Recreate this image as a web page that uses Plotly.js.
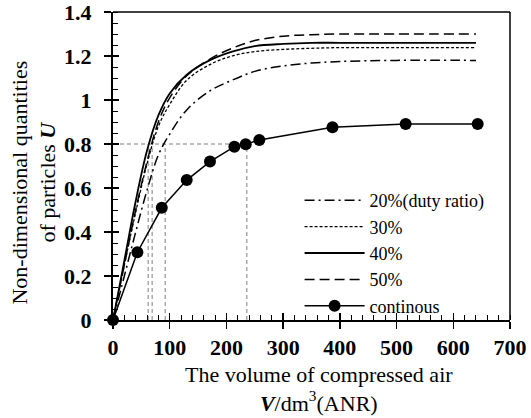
<!DOCTYPE html>
<html>
<head>
<meta charset="utf-8">
<script src="https://cdn.plot.ly/plotly-3.0.1.min.js"></script>
<style>html,body{margin:0;padding:0;background:#fff;}#chart{width:531px;height:418px;}</style>
</head>
<body>
<div id="chart"></div>
<script>
// Data
const xCurve = [0, 20, 40, 60, 80, 100, 130, 170, 210, 250, 300, 350, 400, 500, 640];
const duty20 = [0, 0.2, 0.4, 0.59, 0.75, 0.845, 0.955, 1.04, 1.09, 1.13, 1.155, 1.168, 1.175, 1.18, 1.18];
const duty30 = [0, 0.25, 0.49, 0.71, 0.88, 0.98, 1.09, 1.16, 1.2, 1.22, 1.23, 1.235, 1.238, 1.238, 1.238];
const duty40 = [0, 0.27, 0.54, 0.77, 0.93, 1.03, 1.115, 1.18, 1.22, 1.245, 1.255, 1.26, 1.26, 1.26, 1.26];
const duty50 = [0, 0.25, 0.5, 0.72, 0.9, 1.01, 1.11, 1.185, 1.235, 1.27, 1.29, 1.297, 1.3, 1.3, 1.3];
const contX = [0, 43, 86, 130, 171, 214, 234, 258, 387, 516, 643];
const contY = [0, 0.308, 0.51, 0.636, 0.72, 0.788, 0.799, 0.818, 0.876, 0.891, 0.891];
const refLevel = 0.8;
const refX = [62, 69, 92, 236];
const legendNames = ["20%(duty ratio)", "30%", "40%", "50%", "continous"];
const xTicks = [0, 100, 200, 300, 400, 500, 600, 700];
const yTicks = [0, 0.2, 0.4, 0.6, 0.8, 1, 1.2, 1.4];
const yTickText = ["0", "0.2", "0.4", "0.6", "0.8", "1", "1.2", "1.4"];

const FONT = "Liberation Serif, Times New Roman, serif";
const grey = "#7f7f7f";
const traces = [];
// reference guide lines
traces.push({x: [0, refX[refX.length - 1]], y: [refLevel, refLevel], mode: "lines",
  line: {color: grey, width: 1, dash: "4px,3px"}, showlegend: false, hoverinfo: "skip"});
refX.forEach(v => traces.push({x: [v, v], y: [0, refLevel], mode: "lines",
  line: {color: grey, width: 1, dash: "4px,3px"}, showlegend: false, hoverinfo: "skip"}));

traces.push({x: xCurve, y: duty20, name: legendNames[0], mode: "lines", line: {color: "#000", width: 1.5, dash: "10px,4px,2px,4px", shape: "spline"}});
traces.push({x: xCurve, y: duty30, name: legendNames[1], mode: "lines", line: {color: "#000", width: 1.3, dash: "3px,2px", shape: "spline"}});
traces.push({x: xCurve, y: duty40, name: legendNames[2], mode: "lines", line: {color: "#000", width: 1.8, shape: "spline"}});
traces.push({x: xCurve, y: duty50, name: legendNames[3], mode: "lines", line: {color: "#000", width: 1.5, dash: "10px,5px", shape: "spline"}});
traces.push({x: contX, y: contY, name: legendNames[4], mode: "lines+markers", cliponaxis: false,
  line: {color: "#000", width: 1.5}, marker: {color: "#000", size: 12}});

const tickFont = {family: FONT, size: 22, weight: "bold", color: "#000"};
const layout = {
  width: 531, height: 418,
  margin: {l: 113, r: 21, t: 12, b: 98},
  paper_bgcolor: "#fff", plot_bgcolor: "#fff",
  font: {family: FONT, color: "#000"},
  showlegend: true,
  legend: {x: 0.47, y: 0.448, xanchor: "left", yanchor: "top", bgcolor: "rgba(255,255,255,0)",
    font: {family: FONT, size: 18, color: "#000"}, itemwidth: 60, tracegroupgap: 0},
  xaxis: {range: [0, 700], tickvals: xTicks, ticktext: xTicks.map(String),
    ticks: "outside", ticklen: 7, tickwidth: 1.5, tickcolor: "#000", ticklabeloverflow: "allow",
    showline: true, linecolor: "#000", linewidth: 2, mirror: false, showgrid: false, zeroline: false,
    tickfont: tickFont, ticklabelstandoff: 0,
    minor: {dtick: 20, ticks: "inside", ticklen: 5, tickwidth: 1, tickcolor: "#000", showgrid: false}},
  yaxis: {range: [0, 1.4], tickvals: yTicks, ticktext: yTickText,
    ticks: "outside", ticklen: 7, tickwidth: 1.5, tickcolor: "#000", ticklabeloverflow: "allow",
    showline: true, linecolor: "#000", linewidth: 2, showgrid: false, zeroline: false,
    tickfont: tickFont, ticklabelstandoff: 8,
    minor: {dtick: 0.05, ticks: "inside", ticklen: 5, tickwidth: 1, tickcolor: "#000", showgrid: false}},
  xaxis2: {overlaying: "x", range: [0, 700], tickvals: xTicks, ticks: "inside", ticklen: 7, tickwidth: 1.5,
    tickcolor: "#000", showticklabels: false, showgrid: false, zeroline: false, showline: false, side: "bottom", anchor: "y"},
  yaxis2: {overlaying: "y", range: [0, 1.4], tickvals: yTicks, ticks: "inside", ticklen: 6, tickwidth: 1.5,
    tickcolor: "#000", showticklabels: false, showgrid: false, zeroline: false, showline: false, side: "left", anchor: "x"},
  shapes: [
    {type: "line", xref: "paper", yref: "paper", x0: 0, x1: 1, y0: 1, y1: 1, line: {color: "#000", width: 1.5}},
    {type: "line", xref: "paper", yref: "paper", x0: 1, x1: 1, y0: 0, y1: 1, line: {color: "#000", width: 1.5}}
  ],
  annotations: [
    {xref: "paper", yref: "paper", x: 0.518, y: -0.225, xanchor: "center", yanchor: "middle", showarrow: false,
      text: "The volume of compressed air<br><b><i>V</i></b>/dm<sup>3</sup>(ANR)", font: {family: FONT, size: 22}, align: "center"},
    {xref: "paper", yref: "paper", x: -0.2, y: 0.445, xanchor: "center", yanchor: "middle", showarrow: false, textangle: -90,
      text: "Non-dimensional quantities<br>of particles <b><i>U</i></b>", font: {family: FONT, size: 22}, align: "center"}
  ]
};
// invisible helper trace so the overlay tick axes are drawn
traces.push({x: [0], y: [0], xaxis: "x2", yaxis: "y2", mode: "markers", marker: {opacity: 0}, showlegend: false, hoverinfo: "skip"});

Plotly.newPlot("chart", traces, layout, {staticPlot: true});
</script>
</body>
</html>
